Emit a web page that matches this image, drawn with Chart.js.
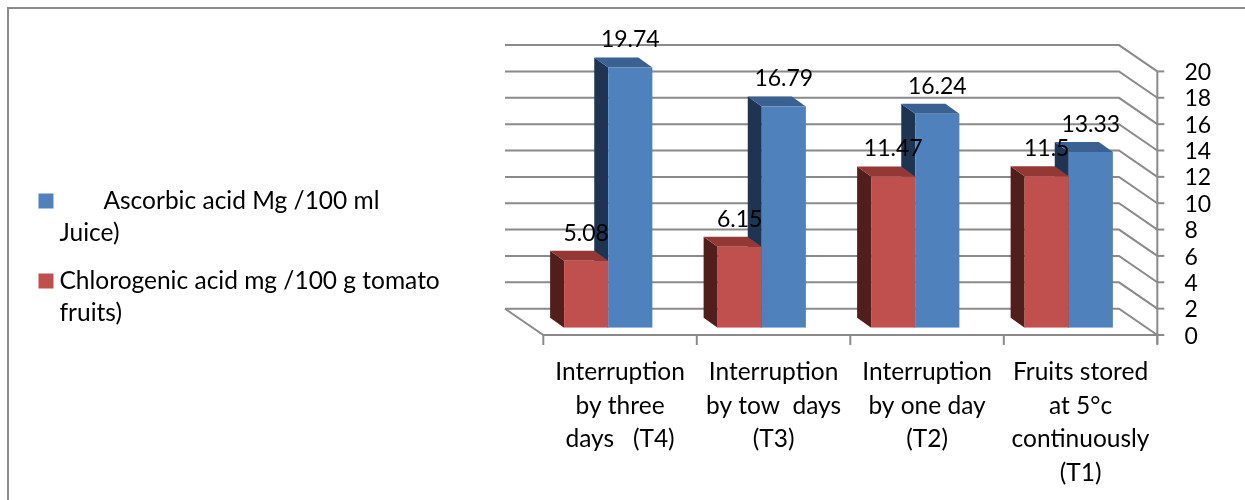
<!DOCTYPE html>
<html>
<head>
<meta charset="utf-8">
<style>
  html, body { margin: 0; padding: 0; background: #ffffff; overflow: hidden; }
  #wrap { position: relative; width: 1245px; height: 500px; }
</style>
<script src="https://cdn.jsdelivr.net/npm/chart.js@4.4.1/dist/chart.umd.min.js"></script>
</head>
<body>
<div id="wrap"><canvas id="chart" width="1245" height="500"></canvas></div>
<script>
// Treatments (multi-line category labels)
const categories = [
  ["Interruption", "by three", "days   (T4)"],
  ["Interruption", "by tow  days", "(T3)"],
  ["Interruption", "by one day", "(T2)"],
  ["Fruits stored", "at 5°c", "continuously", "(T1)"]
];

// Series values
const chlorogenicAcid = [5.08, 6.15, 11.47, 11.5];
const ascorbicAcid = [19.74, 16.79, 16.24, 13.33];

// Series names, split into the lines shown in the legend
const chlorogenicName = ["Chlorogenic acid mg /100 g tomato", "fruits)"];
const ascorbicName = ["       Ascorbic acid Mg /100 ml", "Juice)"];

// Value axis range
const yMin = 0;
const yMax = 20;
const yStep = 2;

const FONT = 'Lato, "Open Sans", sans-serif';
const TEXT_SIZE = 24.5;   // category labels and legend
const NUM_SIZE = 23;      // value labels and axis numbers

// Pseudo-3D geometry: offsets of the front edge and back wall relative to the bar plane
const FRONT = { dx: 11.8, dy: 7.3 };
const BACK = { dx: -26.5, dy: -19 };
const BAR_DEPTH = { dx: -14, dy: -10 };
const GRID = '#8a8a8a';

const faceColors = [
  { front: '#C0504D', top: '#943836', side: '#4F1E1D' },
  { front: '#4F81BD', top: '#3A6191', side: '#1F3450' }
];

Chart.defaults.font.family = FONT;
Chart.defaults.color = '#000000';

function line(ctx, pts) {
  ctx.beginPath();
  ctx.moveTo(pts[0][0], pts[0][1]);
  for (let i = 1; i < pts.length; i++) ctx.lineTo(pts[i][0], pts[i][1]);
  ctx.stroke();
}

function poly(ctx, pts, fill) {
  ctx.beginPath();
  ctx.moveTo(pts[0][0], pts[0][1]);
  for (let i = 1; i < pts.length; i++) ctx.lineTo(pts[i][0], pts[i][1]);
  ctx.closePath();
  ctx.fillStyle = fill;
  ctx.fill();
}

const depthPlugin = {
  id: 'depth3d',
  beforeDraw(chart) {
    const ctx = chart.ctx;
    ctx.save();
    ctx.strokeStyle = '#8a8a8a';
    ctx.lineWidth = 2;
    line(ctx, [[8, 500], [8, 8], [1245, 8]]);
    ctx.restore();
  },
  beforeDatasetsDraw(chart) {
    const { ctx, chartArea: a, scales } = chart;
    const y = scales.y;
    const y0 = y.getPixelForValue(yMin);
    ctx.save();
    ctx.strokeStyle = GRID;
    ctx.lineWidth = 2;
    ctx.lineCap = 'butt';

    // back wall gridlines continued along the right side wall
    for (let v = yMin; v <= yMax; v += yStep) {
      const py = y.getPixelForValue(v);
      line(ctx, [
        [a.left + BACK.dx, py + BACK.dy],
        [a.right + BACK.dx, py + BACK.dy],
        [a.right + FRONT.dx, py + FRONT.dy]
      ]);
    }

    // floor: left edge and front edge
    line(ctx, [
      [a.left + BACK.dx, y0 + BACK.dy],
      [a.left + FRONT.dx, y0 + FRONT.dy],
      [a.right + FRONT.dx, y0 + FRONT.dy]
    ]);

    // value axis line with tick marks
    const ax = a.right + FRONT.dx;
    line(ctx, [[ax, y.getPixelForValue(yMax) + FRONT.dy], [ax, y0 + FRONT.dy + 9]]);
    for (let v = yMin; v <= yMax; v += yStep) {
      const py = y.getPixelForValue(v) + FRONT.dy;
      line(ctx, [[ax, py], [ax + 7, py]]);
    }

    // category separators under the floor
    const n = categories.length;
    const cw = (a.right - a.left) / n;
    for (let i = 0; i <= n; i++) {
      const px = a.left + i * cw + FRONT.dx;
      line(ctx, [[px, y0 + FRONT.dy], [px, y0 + FRONT.dy + 10]]);
    }

    // bar side and top faces (rear series first so the front series overlaps it)
    for (let d = chart.data.datasets.length - 1; d >= 0; d--) {
      const meta = chart.getDatasetMeta(d);
      const col = faceColors[d];
      meta.data.forEach(bar => {
        const L = bar.x - bar.width / 2;
        const R = bar.x + bar.width / 2;
        const T = bar.y;
        const B = bar.base;
        poly(ctx, [[L, T], [L + BAR_DEPTH.dx, T + BAR_DEPTH.dy], [L + BAR_DEPTH.dx, B + BAR_DEPTH.dy], [L, B]], col.side);
        poly(ctx, [[L, T], [L + BAR_DEPTH.dx, T + BAR_DEPTH.dy], [R + BAR_DEPTH.dx, T + BAR_DEPTH.dy], [R, T]], col.top);
      });
    }
    ctx.restore();
  },
  afterDatasetsDraw(chart) {
    const ctx = chart.ctx;
    ctx.save();
    ctx.font = NUM_SIZE + 'px ' + FONT;
    ctx.fillStyle = '#000000';
    ctx.textAlign = 'center';
    ctx.textBaseline = 'middle';
    chart.data.datasets.forEach((ds, d) => {
      const meta = chart.getDatasetMeta(d);
      meta.data.forEach((bar, i) => {
        ctx.fillText(String(ds.data[i]), bar.x, bar.y - 27.5);
      });
    });
    ctx.restore();
  },
  afterDraw(chart) {
    // legend: ascorbic acid listed first, then chlorogenic acid
    const ctx = chart.ctx;
    const entries = [
      { lines: ascorbicName, color: faceColors[1].front, y: 201 },
      { lines: chlorogenicName, color: faceColors[0].front, y: 281 }
    ];
    ctx.save();
    ctx.font = TEXT_SIZE + 'px ' + FONT;
    ctx.textAlign = 'left';
    ctx.textBaseline = 'middle';
    entries.forEach(e => {
      ctx.fillStyle = e.color;
      ctx.fillRect(38.5, e.y - 7.5, 15, 15);
      ctx.fillStyle = '#000000';
      e.lines.forEach((t, k) => {
        ctx.fillText(t, 59.5, e.y + k * 32);
      });
    });
    ctx.restore();
  }
};

new Chart(document.getElementById('chart'), {
  type: 'bar',
  data: {
    labels: categories,
    datasets: [
      {
        label: chlorogenicName.join(' '),
        data: chlorogenicAcid,
        backgroundColor: faceColors[0].front,
        borderWidth: 0,
        categoryPercentage: 0.575,
        barPercentage: 1
      },
      {
        label: ascorbicName.join(' ').trim(),
        data: ascorbicAcid,
        backgroundColor: faceColors[1].front,
        borderWidth: 0,
        categoryPercentage: 0.575,
        barPercentage: 1
      }
    ]
  },
  options: {
    responsive: false,
    animation: false,
    devicePixelRatio: 1,
    layout: { padding: { left: 531.5, right: 19.5, top: 64.1, bottom: 8 } },
    plugins: {
      legend: { display: false },
      tooltip: { enabled: false }
    },
    scales: {
      x: {
        grid: { display: false },
        border: { display: false },
        ticks: {
          font: { size: TEXT_SIZE, lineHeight: 1.376 },
          color: '#000000',
          padding: 19.5,
          labelOffset: FRONT.dx,
          maxRotation: 0,
          minRotation: 0,
          autoSkip: false
        },
        afterFit(s) { s.height = 164.3; }
      },
      y: {
        position: 'right',
        min: yMin,
        max: yMax,
        grid: { display: false },
        border: { display: false },
        ticks: {
          stepSize: yStep,
          autoSkip: false,
          font: { size: NUM_SIZE },
          color: '#000000',
          padding: 31,
          labelOffset: 8.5
        },
        afterFit(s) { s.width = 80; }
      }
    }
  },
  plugins: [depthPlugin]
});
</script>
</body>
</html>
